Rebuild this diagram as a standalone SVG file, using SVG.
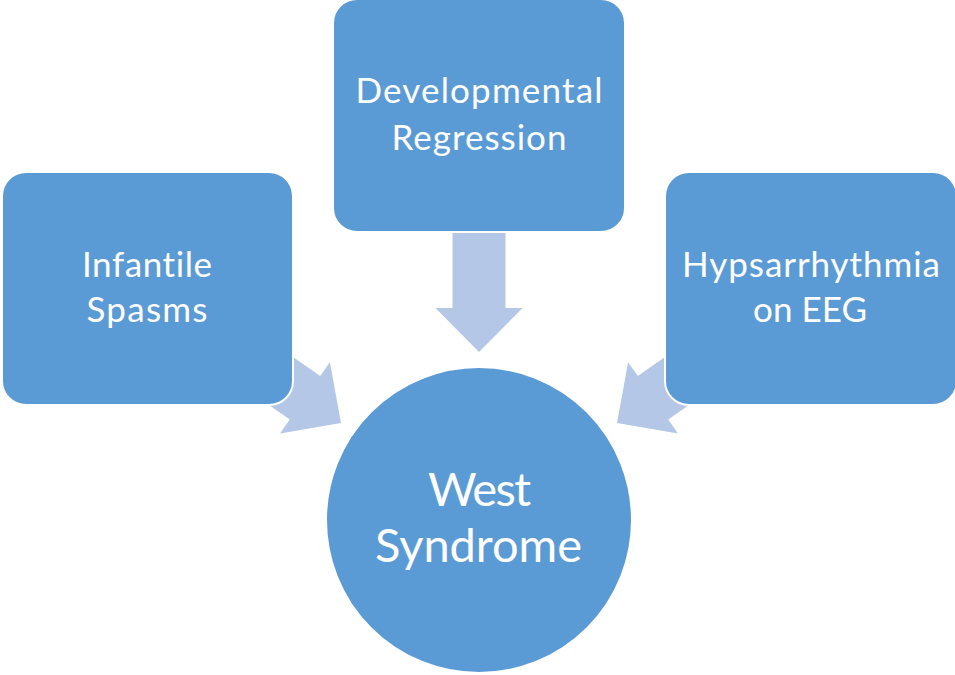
<svg xmlns="http://www.w3.org/2000/svg" width="955" height="675" viewBox="0 0 955 675">
<style>
.box{fill:#5B9BD5;stroke:#FFFFFF;stroke-width:2}
.arrow{fill:#B4C7E7}
.t{fill:#FFFFFF;font-family:Lato,"Open Sans","Liberation Sans",sans-serif;text-anchor:middle;font-variant-ligatures:none;font-feature-settings:"liga" 0}
.s{font-size:35px}
.l{font-size:47px}
</style>
<defs>
<polygon id="arr" points="0,0 -44,-43.5 -44,-26.5 -135,-26.5 -135,26.5 -44,26.5 -44,43.5"/>
</defs>
<rect width="955" height="675" fill="#FFFFFF"/>
<g id="connectors">
<use href="#arr" class="arrow" transform="translate(479,352) rotate(90)"/>
<use href="#arr" class="arrow" transform="translate(341,423) rotate(35)"/>
<use href="#arr" class="arrow" transform="translate(617,423) rotate(145)"/>
</g>
<g id="node-regression">
<rect class="box" x="333" y="-1" width="292" height="233" rx="24"/>
<text class="t s" x="479" y="103" textLength="247">Developmental</text>
<text class="t s" x="479" y="150" textLength="175">Regression</text>
</g>
<g id="node-spasms">
<rect class="box" x="2" y="172" width="291" height="233" rx="24"/>
<text class="t s" x="147" y="277" textLength="130">Infantile</text>
<text class="t s" x="147" y="322" textLength="121">Spasms</text>
</g>
<g id="node-hyps">
<rect class="box" x="665" y="172" width="292" height="233" rx="24"/>
<text class="t s" x="811" y="277" textLength="258">Hypsarrhythmia</text>
<text class="t s" x="810" y="322" textLength="114">on EEG</text>
</g>
<g id="node-west">
<circle class="box" cx="479" cy="520" r="153"/>
<text class="t l" x="479.5" y="506" textLength="103">West</text>
<text class="t l" x="478.5" y="562" textLength="207">Syndrome</text>
</g>
</svg>
